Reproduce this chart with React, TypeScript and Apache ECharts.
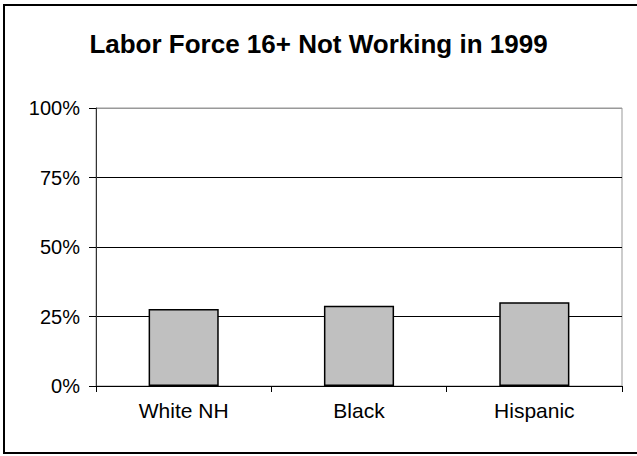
import React, { useEffect, useRef } from "react";
import * as echarts from "echarts";

const titleText = "Labor Force 16+ Not Working in 1999";
const categories = ["White NH", "Black", "Hispanic"];
const notWorkingShare = [0.277, 0.289, 0.301];
const yTicks = [0, 0.25, 0.5, 0.75, 1];

export default function App() {
  const ref = useRef<HTMLDivElement>(null);
  useEffect(() => {
    if (!ref.current) return;
    const chart = echarts.init(ref.current, undefined, { renderer: "svg" });
    const font = "Arial, 'Liberation Sans', sans-serif";
    chart.setOption({
      animation: false,
      backgroundColor: "#ffffff",
      title: {
        text: titleText,
        left: "center",
        top: 26,
        textStyle: { fontFamily: font, fontSize: 26, fontWeight: "bold", color: "#000" },
      },
      graphic: [
        {
          type: "rect",
          shape: { x: 4, y: 5, width: 640, height: 448 },
          style: { fill: "none", stroke: "#000", lineWidth: 2 },
          silent: true,
        },
      ],
      grid: {
        left: 96,
        right: 15,
        top: 108,
        bottom: 70,
        show: true,
        borderColor: "#999",
        borderWidth: 1,
        backgroundColor: "transparent",
      },
      xAxis: {
        type: "category",
        data: categories,
        axisLine: { lineStyle: { color: "#000", width: 1 } },
        axisTick: { show: true, length: 6, lineStyle: { color: "#000" } },
        axisLabel: { fontFamily: font, fontSize: 21, color: "#000", margin: 14 },
        splitLine: { show: false },
      },
      yAxis: {
        type: "value",
        min: yTicks[0],
        max: yTicks[yTicks.length - 1],
        interval: 0.25,
        axisLine: { show: true, lineStyle: { color: "#333", width: 1 } },
        axisTick: { show: true, length: 7, lineStyle: { color: "#000" } },
        axisLabel: {
          fontFamily: font,
          fontSize: 20,
          color: "#000",
          margin: 16,
          formatter: (v: number) => Math.round(v * 100) + "%",
        },
        splitLine: {
          show: true,
          lineStyle: { color: ["#000", "#000", "#000", "#000", "#999"], width: 1 },
        },
      },
      series: [
        {
          type: "bar",
          data: notWorkingShare,
          barWidth: "40%",
          itemStyle: { color: "#c0c0c0", borderColor: "#000", borderWidth: 1.5 },
        },
      ],
    });
    return () => chart.dispose();
  }, []);
  return (
    <div
      ref={ref}
      style={{ position: "absolute", left: 0, top: 0, width: 637, height: 456 }}
    />
  );
}
